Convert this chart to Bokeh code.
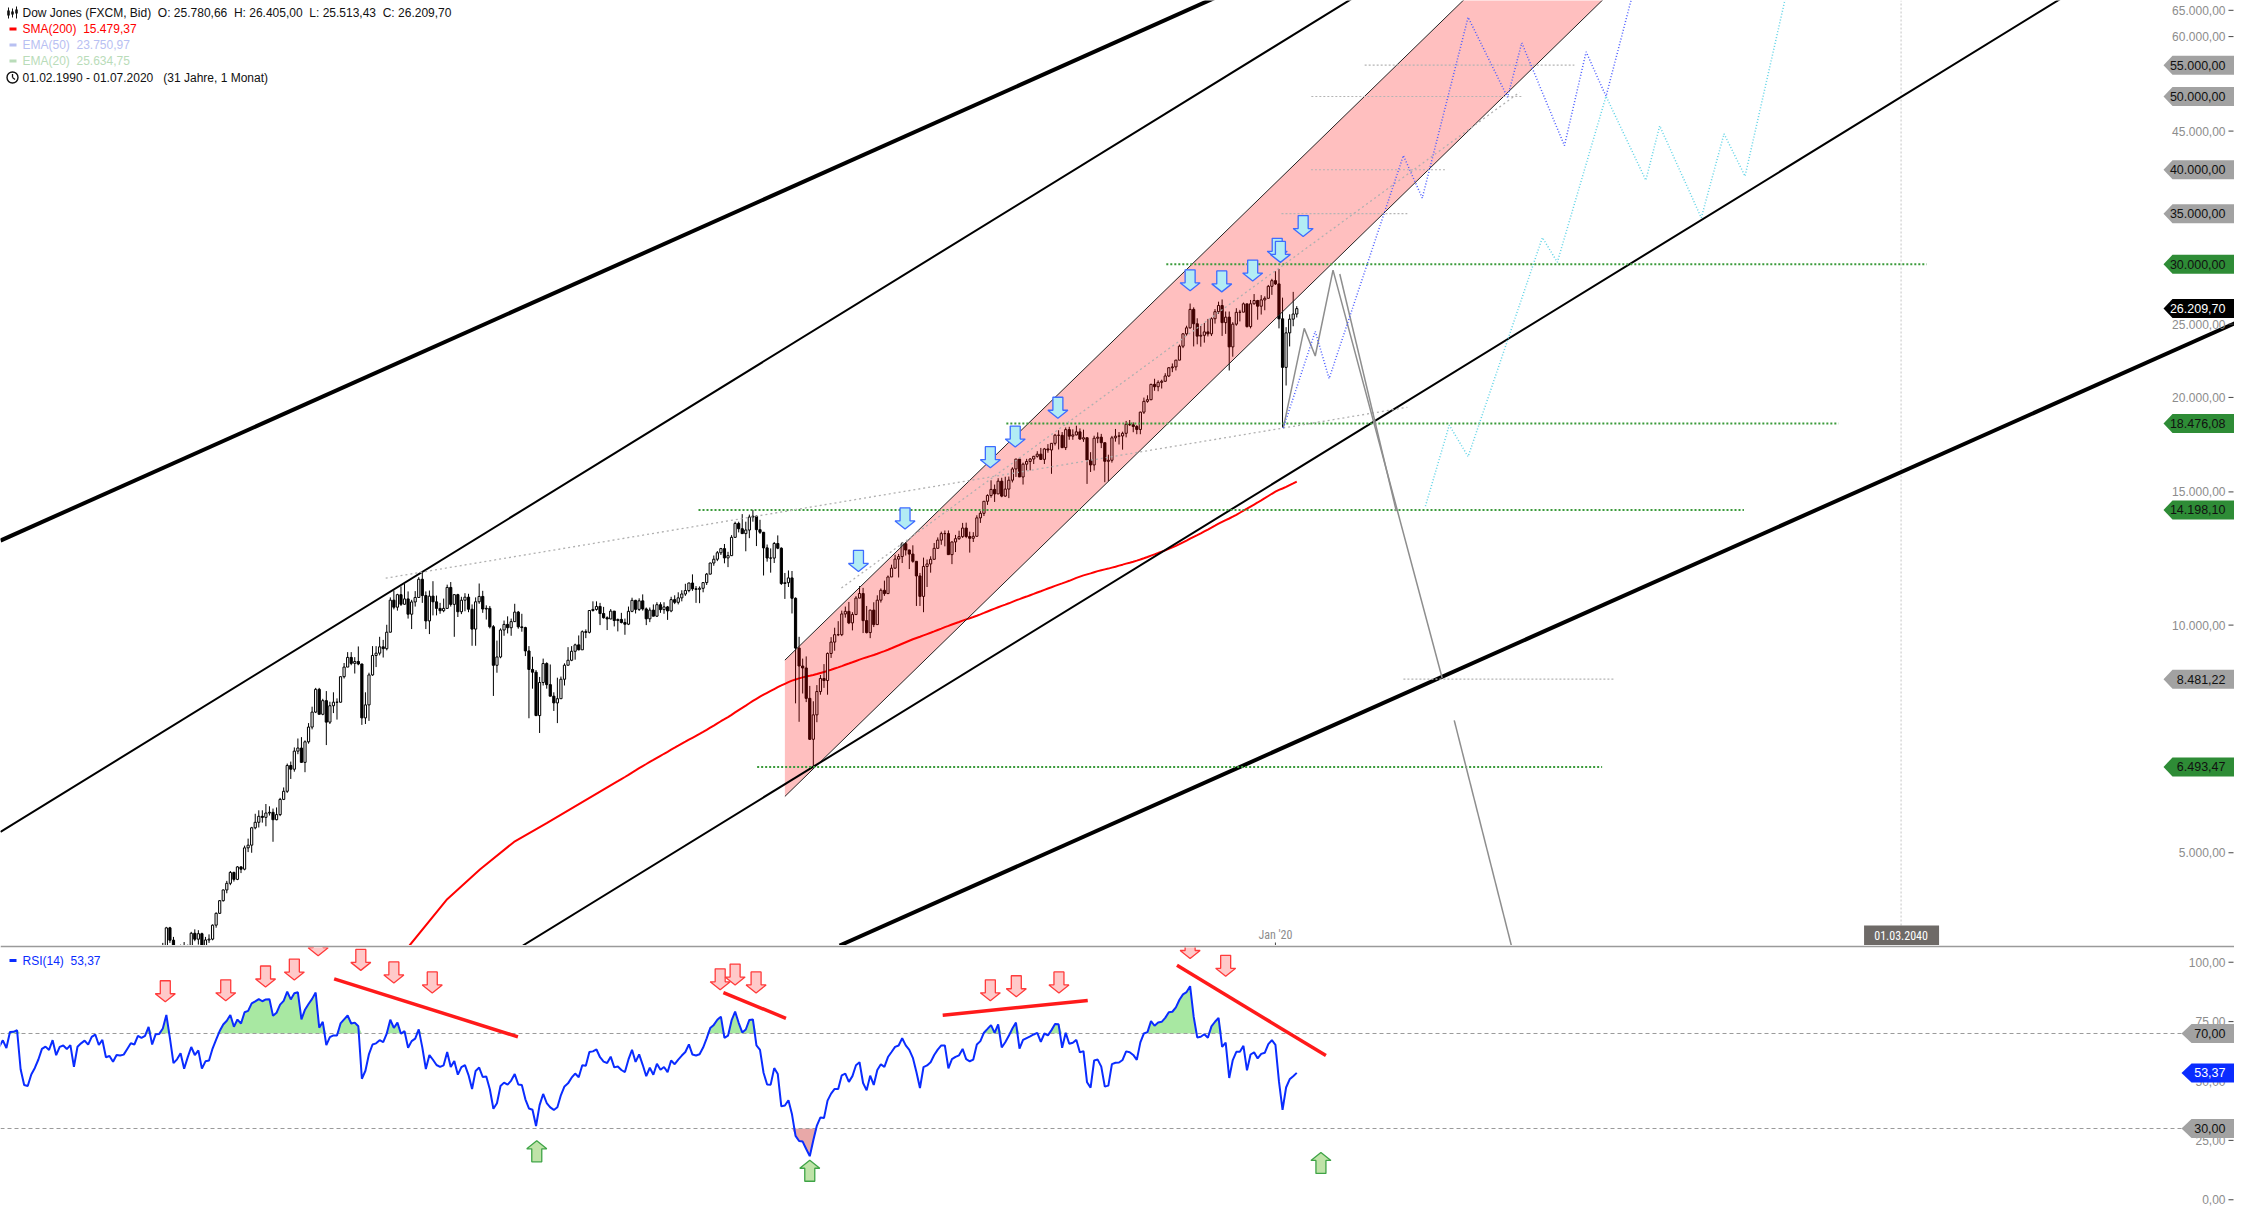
import math
import numpy as np
from bokeh.plotting import figure
from bokeh.layouts import column
from bokeh.models import Range1d
from bokeh.core.properties import value
from bokeh.embed import file_html
from bokeh.resources import INLINE

# ------------------------------------------------------------------ DATA
# Dow Jones monthly closes, Jan 1988 .. Jul 2020 (index 25 = Feb 1990 = first chart month)
closes = [
    1958, 2072, 1988, 2032, 2031, 2142, 2129, 2032, 2113, 2149, 2115, 2169,
    2342, 2258, 2294, 2419, 2480, 2440, 2661, 2737, 2693, 2645, 2706, 2753,
    2591, 2627, 2707, 2657, 2877, 2881, 2905, 2614, 2453, 2442, 2560, 2634,
    2736, 2882, 2914, 2888, 3028, 2907, 3025, 3044, 3017, 3069, 2895, 3169,
    3224, 3268, 3236, 3359, 3397, 3319, 3394, 3257, 3272, 3226, 3305, 3301,
    3310, 3371, 3435, 3428, 3527, 3516, 3540, 3651, 3555, 3681, 3684, 3754,
    3978, 3832, 3636, 3682, 3758, 3625, 3765, 3913, 3843, 3908, 3739, 3834,
    3844, 4011, 4158, 4321, 4465, 4556, 4709, 4611, 4789, 4756, 5075, 5117,
    5395, 5486, 5587, 5569, 5643, 5655, 5529, 5616, 5882, 6029, 6522, 6448,
    6813, 6878, 6584, 7009, 7331, 7673, 8223, 7622, 7945, 7442, 7823, 7908,
    7907, 8546, 8800, 9063, 8900, 8952, 8883, 7539, 7843, 8592, 9117, 9181,
    9359, 9307, 9786, 10789, 10560, 10971, 10655, 10829, 10337, 10730, 10878, 11497,
    10941, 10128, 10922, 10734, 10522, 10448, 10522, 11215, 10651, 10971, 10415, 10787,
    10887, 10495, 9879, 10735, 10912, 10502, 10523, 9950, 8848, 9075, 9852, 10021,
    9920, 10106, 10404, 9946, 9925, 9243, 8737, 8664, 7592, 8397, 8896, 8342,
    8054, 7891, 7992, 8480, 8850, 8985, 9234, 9416, 9275, 9801, 9782, 10454,
    10488, 10584, 10358, 10226, 10188, 10435, 10140, 10174, 10080, 10027, 10428, 10783,
    10490, 10766, 10504, 10193, 10467, 10275, 10641, 10482, 10569, 10440, 10806, 10718,
    10865, 10993, 11109, 11367, 11168, 11150, 11186, 11381, 11679, 12081, 12221, 12463,
    12622, 12269, 12354, 13063, 13628, 13409, 13212, 13358, 13896, 13930, 13372, 13265,
    12650, 12266, 12263, 12820, 12638, 11350, 11378, 11544, 10851, 9325, 8829, 8776,
    8001, 7063, 7609, 8168, 8500, 8447, 9172, 9496, 9712, 9713, 10345, 10428,
    10067, 10325, 10857, 11009, 10137, 9774, 10466, 10015, 10788, 11118, 11006, 11578,
    11892, 12226, 12320, 12811, 12570, 12414, 12143, 11614, 10913, 11955, 12046, 12218,
    12633, 12952, 13212, 13214, 12393, 12880, 13009, 13091, 13437, 13096, 13026, 13104,
    13861, 14054, 14579, 14840, 15116, 14910, 15500, 14810, 15130, 15546, 16086, 16577,
    15699, 16322, 16458, 16581, 16717, 16827, 16563, 17098, 17043, 17391, 17828, 17823,
    17165, 18133, 17776, 17841, 18011, 17620, 17690, 16528, 16285, 17664, 17720, 17425,
    16466, 16517, 17685, 17774, 17787, 17930, 18432, 18401, 18308, 18142, 19124, 19763,
    19864, 20812, 20663, 20941, 21009, 21350, 21891, 21948, 22405, 23377, 24272, 24719,
    26149, 25029, 24103, 24163, 24416, 24271, 25415, 25965, 26458, 25116, 25538, 23327,
    24999, 25916, 25929, 26593, 24815, 26600, 26864, 26403, 26917, 27046, 28051, 28538,
    28256, 25409, 21917, 24346, 25383, 25781, 26209.70,
]
FIRST_IDX = 25          # Feb 1990
HL_START = 60           # highs / lows below start at Jan 1993
highs = [
    3320, 3400, 3460, 3440, 3550, 3560, 3570, 3660, 3660, 3700, 3720, 3800,
    3990, 3990, 3870, 3720, 3780, 3810, 3780, 3930, 3960, 3950, 3920, 3870,
    3900, 4020, 4170, 4330, 4470, 4590, 4730, 4720, 4800, 4800, 5110, 5220,
    5410, 5630, 5690, 5690, 5800, 5760, 5720, 5740, 5910, 6100, 6560, 6600,
    6890, 7080, 7110, 7040, 7420, 7800, 8260, 8260, 7990, 8180, 7920, 8150,
    8000, 8550, 8910, 9210, 9210, 9070, 9370, 8890, 8150, 8650, 9380, 9380,
    9650, 9560, 10010, 10880, 11110, 11000, 11250, 11330, 11080, 10800, 11090, 11570,
    11750, 11080, 11110, 11430, 10940, 10700, 10840, 11310, 11400, 10990, 11000, 10900,
    11020, 11000, 10650, 10880, 11350, 11100, 10620, 10600, 10000, 9540, 9900, 10140,
    10270, 10200, 10670, 10440, 10350, 9950, 9380, 9080, 8720, 8540, 9030, 8930,
    8870, 8150, 8520, 8550, 8900, 9350, 9380, 9450, 9690, 9840, 9870, 10460,
    10750, 10750, 10700, 10570, 10270, 10500, 10370, 10200, 10380, 10200, 10580, 10870,
    10800, 10850, 10980, 10550, 10550, 10650, 10720, 10720, 10720, 10600, 10900, 10950,
    11050, 11120, 11340, 11380, 11670, 11260, 11250, 11390, 11720, 12090, 12360, 12530,
    12650, 12800, 12500, 13150, 13700, 13700, 14020, 13700, 14000, 14200, 13970, 13780,
    13280, 12780, 12630, 12880, 13140, 12670, 11720, 11810, 11790, 10880, 9650, 9030,
    9090, 8310, 7930, 8330, 8590, 8880, 9200, 9640, 9920, 10120, 10450, 10580,
    10730, 10400, 10920, 11260, 11200, 10600, 10480, 10720, 10950, 11180, 11450, 11630,
    12020, 12390, 12420, 12880, 12880, 12580, 12750, 12140, 11720, 12280, 12210, 12330,
    12840, 13060, 13290, 13340, 13340, 12900, 13160, 13330, 13650, 13660, 13290, 13270,
    13970, 14150, 14590, 14890, 15540, 15340, 15640, 15660, 15710, 15720, 16170, 16590,
    16590, 16400, 16590, 16630, 16740, 16980, 17150, 17150, 17350, 17400, 17900, 18100,
    18000, 18250, 18290, 18150, 18350, 18200, 18130, 17660, 16930, 17800, 17980, 17900,
    17400, 16800, 17790, 18170, 18000, 18020, 18620, 18670, 18540, 18380, 19150, 19990,
    20130, 20850, 21170, 21070, 21110, 21530, 21930, 22180, 22420, 23490, 24330, 24880,
    26620, 26310, 25450, 24860, 25090, 25400, 25520, 26170, 26770, 26950, 25980, 25980,
    25150, 26240, 26110, 26700, 26570, 26910, 27400, 26920, 27310, 27210, 28170, 28700,
    29370, 29570, 27100, 24770, 25760, 27580, 26405,
]
lows = [
    3242, 3290, 3350, 3360, 3410, 3480, 3480, 3530, 3530, 3550, 3610, 3670,
    3740, 3800, 3590, 3560, 3640, 3610, 3620, 3740, 3820, 3780, 3660, 3680,
    3800, 3830, 3980, 4150, 4310, 4420, 4530, 4580, 4600, 4700, 4740, 5010,
    5000, 5370, 5400, 5480, 5420, 5600, 5170, 5520, 5590, 5870, 6000, 6260,
    6400, 6750, 6580, 6390, 6970, 7280, 7650, 7620, 7600, 6940, 7400, 7650,
    7500, 7900, 8500, 8800, 8850, 8630, 8850, 7380, 7400, 7470, 8570, 8800,
    9120, 9060, 9260, 9780, 10490, 10450, 10600, 10640, 10200, 9880, 10580, 10940,
    10700, 9880, 9730, 10300, 10300, 10350, 10400, 10600, 10580, 9650, 10250, 10340,
    10430, 10400, 9390, 9390, 10670, 10380, 10170, 9900, 8060, 8650, 9040, 9680,
    9750, 9680, 10100, 9890, 9800, 9100, 7530, 8240, 7580, 7200, 8320, 8240,
    8050, 7700, 7420, 7990, 8320, 8850, 8960, 9000, 9260, 9400, 9610, 9750,
    10420, 10450, 10000, 10200, 9850, 10180, 9960, 9810, 10050, 9710, 10000, 10400,
    10360, 10440, 10450, 10000, 10090, 10270, 10250, 10380, 10350, 10160, 10400, 10660,
    10650, 10750, 10930, 11050, 11100, 10700, 10690, 11050, 11300, 11670, 11980, 12150,
    12380, 12070, 11930, 12350, 13040, 13260, 13200, 12520, 13030, 13700, 12720, 13200,
    11630, 12130, 11730, 12080, 12600, 11300, 10830, 11230, 10360, 7880, 7450, 8120,
    7910, 7050, 6470, 7440, 8090, 8260, 8090, 9050, 9250, 9670, 9670, 10230,
    10030, 9840, 10330, 10860, 9760, 9750, 9610, 9940, 10020, 10710, 10930, 11000,
    11580, 11880, 11560, 12080, 12360, 11860, 12090, 10600, 10600, 10400, 11230, 11730,
    12210, 12650, 12770, 12710, 12390, 12040, 12490, 12960, 13040, 13030, 12470, 12880,
    13100, 13650, 13940, 14420, 14740, 14550, 14900, 14760, 14780, 14720, 15440, 15700,
    15700, 15340, 16020, 16020, 16330, 16650, 16540, 16330, 16900, 15850, 17280, 17070,
    17140, 17040, 17580, 17580, 17820, 17580, 17470, 15370, 15940, 16010, 17400, 17140,
    15450, 15500, 16400, 17480, 17330, 17060, 17710, 18340, 17990, 17880, 17880, 19020,
    19680, 19830, 20410, 20380, 20550, 20990, 21280, 21600, 21710, 22420, 23240, 24140,
    24660, 23360, 23510, 23340, 23630, 24080, 24110, 25040, 25790, 24120, 24270, 21710,
    22640, 24880, 25210, 25990, 24740, 24680, 26530, 25340, 25740, 26080, 27060, 27330,
    28170, 24680, 18250, 20740, 23360, 24840, 25513,
]
LAST_OPEN = 25780.66

# SMA(200) before the close history is long enough
sma_month_early = [115.4, 126.0, 135.2, 144.8, 154.0]
sma_value_early = [3770, 4341, 4752, 5168, 5472]
SMA_N = 200

price_ticks = [5000, 10000, 15000, 20000, 25000, 30000, 35000, 40000,
               45000, 50000, 55000, 60000, 65000]
level_values = [55000, 50000, 40000, 35000, 30000, 26209.70, 18476.08,
                14198.10, 8481.22, 6493.47]
level_kinds = ["gray", "gray", "gray", "gray", "green", "black", "green",
               "green", "gray", "green"]
rsi_ticks = [0, 25, 50, 75, 100]
rsi_levels = [70, 30]
rsi_last = 53.37

# drawings (month index, price)
trend_lines = [(0.34, 12935, 340.3, 66970, 4), (0.34, 5327, 379.7, 66970, 2),
               (147.3, 3770, 579.1, 66970, 2), (236.4, 3770, 628.8, 25055, 4)]
channel = dict(m0=221.0, up0=8988, up_m=411.8, lo0=5935, lo_m=450.9, top=66970)
green_levels = [(30000, 328.3, 542.2), (18476.08, 283.3, 517.4),
                (14198.10, 196.7, 490.8), (6493.47, 213.2, 450.9)]
gray_levels = [(55000, 384.1, 443.1), (50000, 369.1, 428.3), (40000, 369.0, 406.7),
               (35000, 360.7, 396.1), (8481.22, 395.0, 454.2)]
gray_dotted = [([108.7, 396.1], [11535, 19410]), ([236.9, 427.7], [11193, 50640])]
gray_paths = [([361.2, 367.1, 370.2, 375.2, 405.9], [18215, 24680, 22690, 29470, 8513]),
              ([377.1, 393.0], [29120, 14150]),
              ([409.3, 427.7], [7482, 3414])]
blue_path = ([361.2, 370.2, 374.1, 395.0, 400.3, 413.2, 424.3, 428.3, 440.3, 446.4, 452.0, 461.2],
             [18215, 24460, 21180, 41780, 36700, 63640, 49880, 58870, 43050, 57280, 50030, 73300])
cyan_path = ([401.2, 407.9, 413.2, 434.1, 438.3, 452.0, 463.2, 467.1, 478.8, 485.2, 491.1, 502.3, 505.9],
             [14365, 18385, 16700, 32540, 30190, 50030, 38750, 45720, 34560, 44630, 39230, 66970, 75530])
sell_arrows = ([241.7, 254.8, 278.8, 285.8, 297.8, 335.0, 343.9, 352.6, 359.5, 360.4, 366.8],
               [12175, 13860, 16700, 17780, 19410, 28610, 28520, 29470, 31490, 31200, 33750])
rsi_down_arrows = ([46.7, 63.7, 74.9, 83.0, 89.7, 101.7, 111.0, 121.8, 202.8, 207.0, 212.9,
                    278.8, 286.1, 298.1, 335.0, 345.0],
                   [88.0, 88.4, 94.2, 97.1, 107.4, 101.2, 95.9, 91.7, 93.0, 95.0, 91.7,
                    88.4, 90.1, 91.7, 106.2, 98.7])
rsi_up_arrows = ([151.2, 228.0, 371.8], [20.2, 12.0, 15.3])
rsi_div_lines = [(94.2, 93.0, 145.9, 68.6), (203.7, 87.2, 221.3, 76.4),
                 (265.4, 77.7, 306.2, 83.9), (331.3, 98.7, 373.2, 60.7)]
jan20_month = 359
future_label_month = 535.0
future_label = "01.03.2040"

# ------------------------------------------------------------------ GEOMETRY
W, H1, H2 = 2234, 945, 269
TOPB = 2
H2F = H2 - TOPB
X0, X1 = 0.34, 628.8
P0, P1 = 3770.0, 66970.0
R0, R1 = -6.2, 106.2
LP0, LP1 = math.log10(P0), math.log10(P1)
FONT = value("'Liberation Sans', Arial, sans-serif")
NARROW = value("'Liberation Sans Narrow', 'Roboto Condensed', Roboto, sans-serif")


def mx(px):
    return X0 + px * (X1 - X0) / W


def xpx(m):
    return (m - X0) * W / (X1 - X0)


def pm(py):
    return 10 ** (LP1 - py * (LP1 - LP0) / H1)


def ypm(price):
    return (LP1 - math.log10(price)) * H1 / (LP1 - LP0)


def rm(py):
    return R1 - py * (R1 - R0) / H2F


def yrm(r):
    return (R1 - r) * H2F / (R1 - R0)


def de(v, nd=2):
    s = f"{v:,.{nd}f}"
    return s.replace(",", "X").replace(".", ",").replace("X", ".")


DOWN = [(-5, -10), (5, -10), (5, 3), (10, 3), (0, 11), (-10, 3), (-5, 3)]
UP = [(x, -y) for x, y in DOWN]


def shape_main(m, price, pts):
    cx, cy = xpx(m), ypm(price)
    return [mx(cx + dx) for dx, dy in pts], [pm(cy + dy) for dx, dy in pts]


def shape_rsi(m, r, pts):
    cx, cy = xpx(m), yrm(r)
    return [mx(cx + dx) for dx, dy in pts], [rm(cy + dy) for dx, dy in pts]


def extend(m1, p1, m2, p2, ma, mb):
    s = (math.log10(p2) - math.log10(p1)) / (m2 - m1)
    f = lambda m: 10 ** (math.log10(p1) + s * (m - m1))
    return [ma, mb], [f(ma), f(mb)]


# ------------------------------------------------------------------ MAIN PANEL
p1 = figure(width=W, height=H1, x_range=Range1d(X0, X1), y_range=Range1d(P0, P1),
            y_axis_type="log", output_backend="svg", toolbar_location=None, min_border=0)
p1.axis.visible = False
p1.grid.visible = False
p1.outline_line_color = None
p1.background_fill_color = "white"

c_arr = np.array(closes, dtype=float)
n = min(len(highs), len(lows), len(closes) - HL_START)
idx = np.arange(HL_START, HL_START + n)
mm = idx - FIRST_IDX
o = c_arr[idx - 1].copy()
o[-1] = LAST_OPEN if idx[-1] == len(closes) - 1 else o[-1]
cc = c_arr[idx]
hh = np.maximum(np.array(highs[:n], float), np.maximum(o, cc))
ll = np.minimum(np.array(lows[:n], float), np.minimum(o, cc))
up = cc >= o

# vertical dotted future date line
p1.segment(x0=[future_label_month], y0=[P0], x1=[future_label_month], y1=[P1],
           line_color="#c4c4c4", line_width=1, line_dash="2 2")

# SMA 200: read early part + moving average of the closes once 200 months exist
sma_m = list(sma_month_early)
sma_v = list(sma_value_early)
for i in range(SMA_N - 1, len(c_arr)):
    sma_m.append(i - FIRST_IDX)
    sma_v.append(float(c_arr[i - SMA_N + 1:i + 1].mean()))
p1.line(sma_m, sma_v, line_color="#ff0000", line_width=2)

# candles
p1.segment(x0=mm, y0=hh, x1=mm, y1=ll, line_color="black", line_width=1)
p1.vbar(x=mm[up], width=0.62, top=cc[up], bottom=o[up], fill_color="white",
        line_color="black", line_width=1)
p1.vbar(x=mm[~up], width=0.62, top=o[~up], bottom=cc[~up], fill_color="black",
        line_color="black", line_width=1)

# red channel (semi-transparent fill over candles)
ch = channel
s_up = (math.log10(ch["top"]) - math.log10(ch["up0"])) / (ch["up_m"] - ch["m0"])
s_lo = (math.log10(ch["top"]) - math.log10(ch["lo0"])) / (ch["lo_m"] - ch["m0"])
far = 2.0e5
mu_far = ch["m0"] + (math.log10(far) - math.log10(ch["up0"])) / s_up
ml_far = ch["m0"] + (math.log10(far) - math.log10(ch["lo0"])) / s_lo
p1.patch([ch["m0"], mu_far, ml_far, ch["m0"]], [ch["up0"], far, far, ch["lo0"]],
         fill_color="#ff0000", fill_alpha=0.25, line_color=None)
p1.line([ch["m0"], mu_far], [ch["up0"], far], line_color="#222222", line_width=1)
p1.line([ch["m0"], ml_far], [ch["lo0"], far], line_color="#222222", line_width=1)

# long trend lines
for m1, pa, m2, pb, wdt in trend_lines:
    xs, ys = extend(m1, pa, m2, pb, m1, 700)
    p1.line(xs, ys, line_color="black", line_width=wdt)

# horizontal levels
for v, a, b in green_levels:
    p1.line([a, b], [v, v], line_color="#3a9a3a", line_width=2, line_dash="2 2")
for v, a, b in gray_levels:
    p1.line([a, b], [v, v], line_color="#b4b4b4", line_width=1.2, line_dash="2 2")
for xs, ys in gray_dotted:
    p1.line(xs, ys, line_color="#b0b0b0", line_width=1.3, line_dash="2 3")

# projection paths
for xs, ys in gray_paths:
    p1.line(xs, ys, line_color="#8e8e8e", line_width=1.5)
p1.line(blue_path[0], blue_path[1], line_color="#4a5cff", line_width=1.5, line_dash="1 2")
p1.line(cyan_path[0], cyan_path[1], line_color="#5fd3e6", line_width=1.5, line_dash="1 2")

# sell arrows
axs, ays = [], []
for m, pr in zip(*sell_arrows):
    a, b = shape_main(m, pr, DOWN)
    axs.append(a)
    ays.append(b)
p1.patches(axs, ays, fill_color="#b2ecf4", line_color="#3d6bff", line_width=1.3)

# right price scale
tx = mx(W - 9)
p1.text(x=[tx] * len(price_ticks), y=price_ticks, text=[de(v) for v in price_ticks],
        text_align="right", text_baseline="middle", text_font=FONT,
        text_font_size="12px", text_color="#8c8c8c")
p1.segment(x0=[mx(W - 6)] * len(price_ticks), y0=price_ticks,
           x1=[mx(W - 1)] * len(price_ticks), y1=price_ticks, line_color="#444444", line_width=1)

box_fill = {"gray": "#a2a2a2", "green": "#2e8c36", "black": "#000000"}
box_text = {"gray": "#111111", "green": "#111111", "black": "#ffffff"}
bxs, bys, bfc = [], [], []
for v, k in zip(level_values, level_kinds):
    cy = ypm(v)
    pts = [(W - 71, 0), (W - 62, -9.5), (W + 2, -9.5), (W + 2, 9.5), (W - 62, 9.5)]
    bxs.append([mx(px) for px, d in pts])
    bys.append([pm(cy + d) for px, d in pts])
    bfc.append(box_fill[k])
p1.patches(bxs, bys, fill_color=bfc, line_color=None)
p1.text(x=[tx] * len(level_values), y=level_values, text=[de(v) for v in level_values],
        text_align="right", text_baseline="middle", text_font=FONT, text_font_size="12.5px",
        text_color=[box_text[k] for k in level_kinds])

# bottom time labels
yb = pm(H1 - 11)
p1.text(x=[jan20_month], y=[yb], text=["Jan '20"], text_align="center",
        text_baseline="middle", text_font=NARROW, text_font_size="12px", text_color="#8c8c8c")
p1.segment(x0=[jan20_month], y0=[pm(H1 - 3)], x1=[jan20_month], y1=[P0],
           line_color="#444444", line_width=1)
fx = xpx(future_label_month)
p1.quad(left=[mx(fx - 37)], right=[mx(fx + 38)], top=[pm(H1 - 20)], bottom=[P0],
        fill_color="#6e6a67", line_color=None)
p1.text(x=[future_label_month], y=[pm(H1 - 10)], text=[future_label], text_align="center",
        text_baseline="middle", text_font=NARROW, text_font_size="12px", text_color="#ffffff")

# legend (top-left)
lx = mx(22)
leg_y = [12.5, 28.5, 44.5, 60.5, 77]
leg_t = ["Dow Jones (FXCM, Bid)\u00a0 O: 25.780,66\u00a0 H: 26.405,00\u00a0 L: 25.513,43\u00a0 C: 26.209,70",
         "SMA(200)\u00a0 15.479,37", "EMA(50)\u00a0 23.750,97", "EMA(20)\u00a0 25.634,75",
         "01.02.1990 - 01.07.2020\u00a0\u00a0 (31 Jahre, 1 Monat)"]
leg_c = ["#111111", "#ff0000", "#b8c0f2", "#b9dcb9", "#111111"]
p1.text(x=[lx] * 5, y=[pm(v) for v in leg_y], text=leg_t, text_align="left",
        text_baseline="middle", text_font=FONT, text_font_size="12px", text_color=leg_c)
p1.segment(x0=[mx(9)] * 3, y0=[pm(v) for v in leg_y[1:4]], x1=[mx(16)] * 3,
           y1=[pm(v) for v in leg_y[1:4]], line_color=["#ff0000", "#b8c0f2", "#b9dcb9"],
           line_width=3)
# candle icon
for cxp, t, b, bt, bb in [(8, 7, 18, 10, 15), (12, 8, 17, 11, 14), (16, 6, 18, 9, 13)]:
    p1.segment(x0=[mx(cxp)], y0=[pm(t)], x1=[mx(cxp)], y1=[pm(b)], line_color="#111111", line_width=1)
    p1.quad(left=[mx(cxp - 1.3)], right=[mx(cxp + 1.3)], top=[pm(bt)], bottom=[pm(bb)],
            fill_color="#111111", line_color=None)
# clock icon
p1.scatter(x=[mx(12)], y=[pm(77)], marker="circle", size=11, fill_color=None,
           line_color="#111111", line_width=1.4)
p1.segment(x0=[mx(12), mx(12)], y0=[pm(77), pm(77)], x1=[mx(12), mx(14.5)],
           y1=[pm(73.5), pm(79)], line_color="#111111", line_width=1.3)

# ------------------------------------------------------------------ RSI PANEL
p2 = figure(width=W, height=H2, x_range=p1.x_range, y_range=Range1d(R0, R1),
            output_backend="svg", toolbar_location=None, min_border=0)
p2.min_border_top = TOPB
p2.border_fill_color = "#9a9a9a"
p2.axis.visible = False
p2.grid.visible = False
p2.outline_line_color = None
p2.background_fill_color = "white"

# RSI(14), Wilder smoothing on the monthly closes
N = 14
d = np.diff(c_arr)
g = np.clip(d, 0, None)
lo_ = np.clip(-d, 0, None)
rsi = np.full(len(c_arr), np.nan)
ag, al = g[:N].mean(), lo_[:N].mean()
rsi[N] = 100 - 100 / (1 + ag / al)
for k in range(N, len(d)):
    ag = (ag * (N - 1) + g[k]) / N
    al = (al * (N - 1) + lo_[k]) / N
    rsi[k + 1] = 100 - 100 / (1 + ag / al)
ri = np.arange(FIRST_IDX - 2, len(c_arr))
rx = ri - FIRST_IDX
ry = rsi[ri]

p2.varea(x=rx, y1=np.full(len(rx), 70.0), y2=np.maximum(ry, 70), fill_color="#a8e8a2")
p2.varea(x=rx, y1=np.minimum(ry, 30), y2=np.full(len(rx), 30.0), fill_color="#e8a8a8")
for lv in rsi_levels:
    p2.line([X0, mx(W - 53)], [lv, lv], line_color="#9a9a9a", line_width=1, line_dash="4 3")
p2.line(rx, ry, line_color="#0a2cff", line_width=2)

for a, b, c2, d2 in rsi_div_lines:
    p2.line([a, c2], [b, d2], line_color="#ff1a1a", line_width=3.5)

axs, ays = [], []
for m, r in zip(*rsi_down_arrows):
    a, b = shape_rsi(m, r, DOWN)
    axs.append(a)
    ays.append(b)
p2.patches(axs, ays, fill_color="#ffc9c9", line_color="#ff3b3b", line_width=1.3)
axs, ays = [], []
for m, r in zip(*rsi_up_arrows):
    a, b = shape_rsi(m, r, UP)
    axs.append(a)
    ays.append(b)
p2.patches(axs, ays, fill_color="#bfe3a8", line_color="#3fa446", line_width=1.3)

# right RSI scale
p2.text(x=[tx] * len(rsi_ticks), y=rsi_ticks, text=[de(v) for v in rsi_ticks],
        text_align="right", text_baseline="middle", text_font=FONT,
        text_font_size="12px", text_color="#8c8c8c")
p2.segment(x0=[mx(W - 6)] * len(rsi_ticks), y0=rsi_ticks, x1=[mx(W - 1)] * len(rsi_ticks),
           y1=rsi_ticks, line_color="#444444", line_width=1)
rb_vals = [70, rsi_last, 30]
rb_fill = ["#a2a2a2", "#0a2cff", "#a2a2a2"]
rb_txt = ["#111111", "#ffffff", "#111111"]
bxs, bys = [], []
for v in rb_vals:
    cy = yrm(v)
    pts = [(W - 53, 0), (W - 43, -9.5), (W + 2, -9.5), (W + 2, 9.5), (W - 43, 9.5)]
    bxs.append([mx(px) for px, dd in pts])
    bys.append([rm(cy + dd) for px, dd in pts])
p2.patches(bxs, bys, fill_color=rb_fill, line_color=None)
p2.text(x=[tx] * 3, y=rb_vals, text=[de(v) for v in rb_vals], text_align="right",
        text_baseline="middle", text_font=FONT, text_font_size="12.5px", text_color=rb_txt)

# RSI legend
p2.segment(x0=[mx(9)], y0=[rm(13)], x1=[mx(16)], y1=[rm(13)], line_color="#0a2cff", line_width=3)
p2.text(x=[mx(22)], y=[rm(13)], text=["RSI(14)\u00a0 " + de(rsi_last)], text_align="left",
        text_baseline="middle", text_font=FONT, text_font_size="12px", text_color="#0a2cff")

layout = column(p1, p2, spacing=0)
open("out.html", "w").write(file_html(layout, INLINE))
